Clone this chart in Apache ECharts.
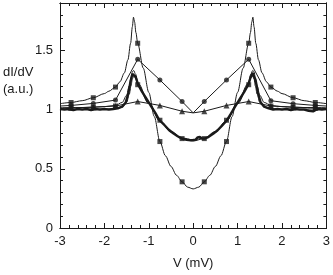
<!DOCTYPE html>
<html><head><meta charset="utf-8">
<script src="https://cdn.jsdelivr.net/npm/echarts@6/dist/echarts.min.js"></script>
<style>html,body{margin:0;padding:0;background:#fff}#c{width:333px;height:275px}</style>
</head><body><div id="c"></div>
<script>
// Curve A: deep gap, square markers
const aX = [-3,-2.75,-2.5,-2.25,-2,-1.9,-1.75,-1.65,-1.55,-1.47,-1.41,-1.37,-1.345,-1.32,-1.29,-1.25,-1.125,-1,-0.875,-0.75,-0.625,-0.5,-0.375,-0.25,-0.125,0,0.125,0.25,0.375,0.5,0.625,0.75,0.875,1,1.125,1.25,1.29,1.32,1.345,1.37,1.41,1.47,1.55,1.65,1.75,1.9,2,2.25,2.5,2.75,3];
const aY = [1.05,1.06,1.075,1.10,1.135,1.155,1.19,1.235,1.31,1.42,1.56,1.70,1.78,1.74,1.65,1.56,1.35,1.145,0.94,0.73,0.61,0.52,0.445,0.39,0.345,0.33,0.345,0.39,0.445,0.52,0.61,0.73,0.94,1.145,1.35,1.56,1.65,1.74,1.78,1.70,1.56,1.42,1.31,1.235,1.19,1.155,1.135,1.10,1.075,1.06,1.05];
const aMarkX = [-2.75,-2.25,-1.75,-1.25,-0.75,-0.25,0.25,0.75,1.25,1.75,2.25,2.75];
const aMarkY = [1.06,1.10,1.19,1.56,0.73,0.39,0.39,0.73,1.56,1.19,1.10,1.06];
// Curve B: circles, straight segments
const bX = [-3,-2.75,-2.25,-1.75,-1.25,-0.75,-0.25,0,0.25,0.75,1.25,1.75,2.25,2.75,3];
const bY = [1.03,1.035,1.052,1.08,1.425,1.25,1.068,0.972,1.068,1.25,1.425,1.075,1.05,1.035,1.03];
const bMarkX = [-2.75,-2.25,-1.75,-1.25,-0.75,-0.25,0.25,0.75,1.25,1.75,2.25,2.75];
const bMarkY = [1.035,1.052,1.08,1.425,1.25,1.068,1.068,1.25,1.425,1.075,1.05,1.035];
// Curve C: triangles, straight segments
const cX = [-3,-2.75,-2.25,-1.75,-1.25,-0.75,-0.25,0,0.25,0.75,1.25,1.75,2.25,2.75,3];
const cY = [1.01,1.015,1.02,1.03,1.068,1.035,0.986,0.972,0.986,1.035,1.068,1.03,1.02,1.015,1.01];
const cMarkX = [-2.75,-2.25,-1.75,-1.25,-0.75,-0.25,0.25,0.75,1.25,1.75,2.25,2.75];
const cMarkY = [1.015,1.02,1.03,1.068,1.035,0.986,0.986,1.035,1.068,1.03,1.02,1.015];
// Curve D: thick measured data
const dX = [-3,-2.9,-2.8,-2.7,-2.6,-2.5,-2.4,-2.3,-2.2,-2.1,-2,-1.9,-1.8,-1.7,-1.6,-1.52,-1.46,-1.41,-1.37,-1.34,-1.3,-1.24,-1.15,-1.05,-0.95,-0.85,-0.76,-0.65,-0.55,-0.45,-0.35,-0.26,-0.15,-0.05,0.05,0.1,0.15,0.2,0.26,0.35,0.45,0.55,0.65,0.76,0.85,0.95,1.05,1.15,1.24,1.3,1.34,1.37,1.41,1.46,1.52,1.6,1.7,1.8,1.9,2,2.1,2.2,2.3,2.4,2.5,2.6,2.7,2.8,2.9,3];
const dY = [1.005,1.0,1.005,0.995,1.005,1.0,1.005,0.995,1.005,1.0,1.005,1.0,1.005,1.01,1.025,1.06,1.14,1.24,1.30,1.31,1.28,1.21,1.15,1.09,1.03,0.97,0.91,0.87,0.83,0.80,0.775,0.755,0.745,0.74,0.745,0.765,0.77,0.755,0.755,0.77,0.795,0.825,0.865,0.91,0.965,1.03,1.09,1.15,1.21,1.28,1.31,1.30,1.24,1.14,1.06,1.025,1.01,1.0,1.005,1.0,1.005,0.995,1.005,1.0,1.0,0.99,0.985,1.005,1.0,1.005];
// Curves E, F: thin fits near the thick data
const eX = [-3,-2.5,-2,-1.75,-1.6,-1.5,-1.44,-1.4,-1.37,-1.34,-1.3,-1.24,-1,-0.75,-0.5,-0.25,0,0.25,0.5,0.75,1,1.24,1.3,1.34,1.37,1.4,1.44,1.5,1.6,1.75,2,2.5,3];
const eY = [1.015,1.017,1.025,1.035,1.06,1.12,1.2,1.27,1.32,1.33,1.30,1.22,1.06,0.905,0.81,0.755,0.735,0.755,0.81,0.905,1.06,1.22,1.30,1.33,1.32,1.27,1.2,1.12,1.06,1.035,1.025,1.017,1.015];
const fY = [1.005,1.005,1.005,1.008,1.02,1.06,1.13,1.2,1.26,1.28,1.27,1.20,1.05,0.905,0.815,0.76,0.745,0.76,0.815,0.905,1.05,1.20,1.27,1.28,1.26,1.2,1.13,1.06,1.02,1.008,1.005,1.005,1.005];
const gMarkX = [-2.75,-2.25,-1.75,-1.25,-0.75,-0.25,0.25,0.75,1.25,1.75,2.25,2.75];
const gMarkY = [1.015,1.018,1.03,1.21,0.91,0.755,0.755,0.91,1.21,1.03,1.018,1.015];
// Axis ticks
const xTicks = [-3,-2,-1,0,1,2,3];
const yTicks = [0,0.5,1,1.5];

const zip = (xs, ys) => xs.map((x, i) => [x, ys[i]]);
const INK = '#1a1a1a';
const FONT = 'Liberation Sans, Arial, sans-serif';

function xa(pos, interval, len, labels, extra) {
  return Object.assign({
    type: 'value', position: pos, min: -3, max: 3, interval: interval,
    axisLine: {show: true, onZero: false, lineStyle: {color: INK, width: 1}},
    axisTick: {show: true, inside: true, length: len, lineStyle: {color: INK, width: 1}},
    splitLine: {show: false},
    axisLabel: labels ? {show: true, margin: 7, color: INK, fontSize: 13, fontFamily: FONT,
      formatter: v => (xTicks.indexOf(v) >= 0 ? String(v) : '')} : {show: false}
  }, extra || {});
}
function ya(pos, interval, len, labels) {
  return {
    type: 'value', position: pos, min: 0, max: 1.9, interval: interval,
    axisLine: {show: true, onZero: false, lineStyle: {color: INK, width: 1}},
    axisTick: {show: true, inside: true, length: len, lineStyle: {color: INK, width: 1}},
    splitLine: {show: false},
    axisLabel: labels ? {show: true, margin: 7, color: INK, fontSize: 13, fontFamily: FONT, showMaxLabel: false,
      formatter: v => (yTicks.indexOf(v) >= 0 ? String(v) : '')} : {show: false}
  };
}

const chart = echarts.init(document.getElementById('c'), null, {renderer: 'canvas'});
const lineBase = {type: 'line', xAxisIndex: 0, yAxisIndex: 0, symbol: 'none', animation: false,
  lineStyle: {color: INK, width: 1}, itemStyle: {color: INK}, z: 3};
const markBase = {type: 'scatter', xAxisIndex: 0, yAxisIndex: 0, animation: false,
  itemStyle: {color: INK}, z: 4};

chart.setOption({
  animation: false,
  grid: {left: 60, right: 3, top: 3, bottom: 42, containLabel: false},
  xAxis: [
    xa('bottom', 1, 5, true, {name: 'V (mV)', nameLocation: 'middle', nameGap: 29,
      nameTextStyle: {color: INK, fontSize: 13, fontFamily: FONT}}),
    xa('bottom', 0.2, 3, false),
    xa('top', 1, 5, false),
    xa('top', 0.2, 3, false)
  ],
  yAxis: [
    ya('left', 0.5, 5, true),
    ya('left', 0.1, 3, false),
    ya('right', 0.5, 5, false),
    ya('right', 0.1, 3, false)
  ],
  graphic: [{type: 'text', left: 3, top: 64,
    style: {text: 'dI/dV\n(a.u.)', fill: INK, font: '13px ' + FONT, lineHeight: 17}}],
  series: [
    Object.assign({}, lineBase, {data: zip(aX, aY), smooth: 0.3, smoothMonotone: 'x'}),
    Object.assign({}, lineBase, {data: zip(bX, bY)}),
    Object.assign({}, lineBase, {data: zip(cX, cY)}),
    Object.assign({}, lineBase, {data: zip(eX, eY), smooth: 0.35, smoothMonotone: 'x'}),
    Object.assign({}, lineBase, {data: zip(eX, fY), smooth: 0.35, smoothMonotone: 'x'}),
    Object.assign({}, lineBase, {data: zip(dX, dY), lineStyle: {color: INK, width: 2.4}}),
    Object.assign({}, markBase, {data: zip(aMarkX, aMarkY), symbol: 'rect', symbolSize: 5}),
    Object.assign({}, markBase, {data: zip(bMarkX, bMarkY), symbol: 'circle', symbolSize: 5}),
    Object.assign({}, markBase, {data: zip(cMarkX, cMarkY), symbol: 'triangle', symbolSize: 6}),
    Object.assign({}, markBase, {data: zip(gMarkX, gMarkY), symbol: 'rect', symbolSize: 5})
  ]
});
</script></body></html>
